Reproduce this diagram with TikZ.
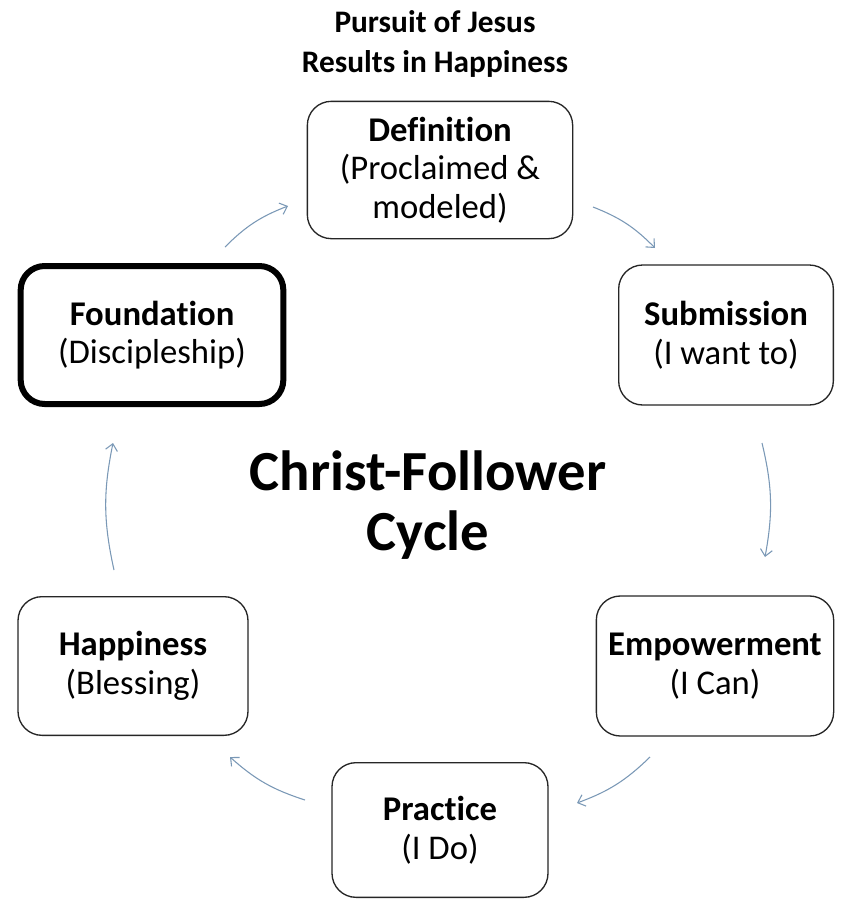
\documentclass[tikz,border=0pt]{standalone}
\usepackage{fontspec}
\setmainfont[Ligatures=NoCommon]{Carlito}
\usetikzlibrary{arrows.meta}
\definecolor{arrowblue}{RGB}{122,152,182}
\tikzset{
  stage/.style={draw=black!85, line width=1pt, rounded corners=18pt, fill=white,
    align=center, inner sep=0pt, font=\fontsize{26}{29}\selectfont},
  cyclearrow/.style={draw=arrowblue, line width=0.8pt, bend left=12,
    -{Straight Barb[length=5pt,width=9pt,line width=0.8pt]}},
}
\begin{document}
\begin{tikzpicture}[x=0.75pt, y=-0.75pt]
  \useasboundingbox (0,0) rectangle (861,900);
  % heading and centre label
  \node[align=center, font=\bfseries\fontsize{23.5}{30.5}\selectfont] (title) at (435,44)
    {Pursuit of Jesus\\Results in Happiness};
  \node[align=center, font=\bfseries\fontsize{42.5}{45}\selectfont] (cyclelabel) at (428,505)
    {Christ-Follower\\Cycle};
  % the six stages
  \node[stage, minimum width=199pt, minimum height=103pt] (definition) at (440,170)
    {\textbf{Definition}\\(Proclaimed \&\\modeled)};
  \node[stage, minimum width=161pt, minimum height=105pt] (submission) at (726,335)
    {\textbf{Submission}\\(I want to)};
  \node[stage, minimum width=178pt, minimum height=105pt] (empowerment) at (715,666)
    {\textbf{Empowerment}\\(I Can)};
  \node[stage, minimum width=162pt, minimum height=101pt] (practice) at (440,830)
    {\textbf{Practice}\\(I Do)};
  \node[stage, minimum width=172.5pt, minimum height=104pt] (happiness) at (133,666)
    {\textbf{Happiness}\\(Blessing)};
  \node[stage, line width=4.5pt, draw=black, minimum width=197pt, minimum height=103.5pt] (foundation) at (152,335)
    {\textbf{Foundation}\\(Discipleship)};
  % arrow ends
  \coordinate (fd1) at (225,247);
  \coordinate (fd2) at (288,206);
  \coordinate (ds1) at (593,207);
  \coordinate (ds2) at (655,248);
  \coordinate (se1) at (762,443);
  \coordinate (se2) at (765,557);
  \coordinate (ep1) at (650,757);
  \coordinate (ep2) at (577,803);
  \coordinate (ph1) at (305,800);
  \coordinate (ph2) at (230,757);
  \coordinate (hf1) at (114,570);
  \coordinate (hf2) at (113,443);
  \draw[cyclearrow] (fd1) to (fd2);
  \draw[cyclearrow] (ds1) to (ds2);
  \draw[cyclearrow] (se1) to (se2);
  \draw[cyclearrow] (ep1) to (ep2);
  \draw[cyclearrow] (ph1) to (ph2);
  \draw[cyclearrow] (hf1) to (hf2);
\end{tikzpicture}
\end{document}
